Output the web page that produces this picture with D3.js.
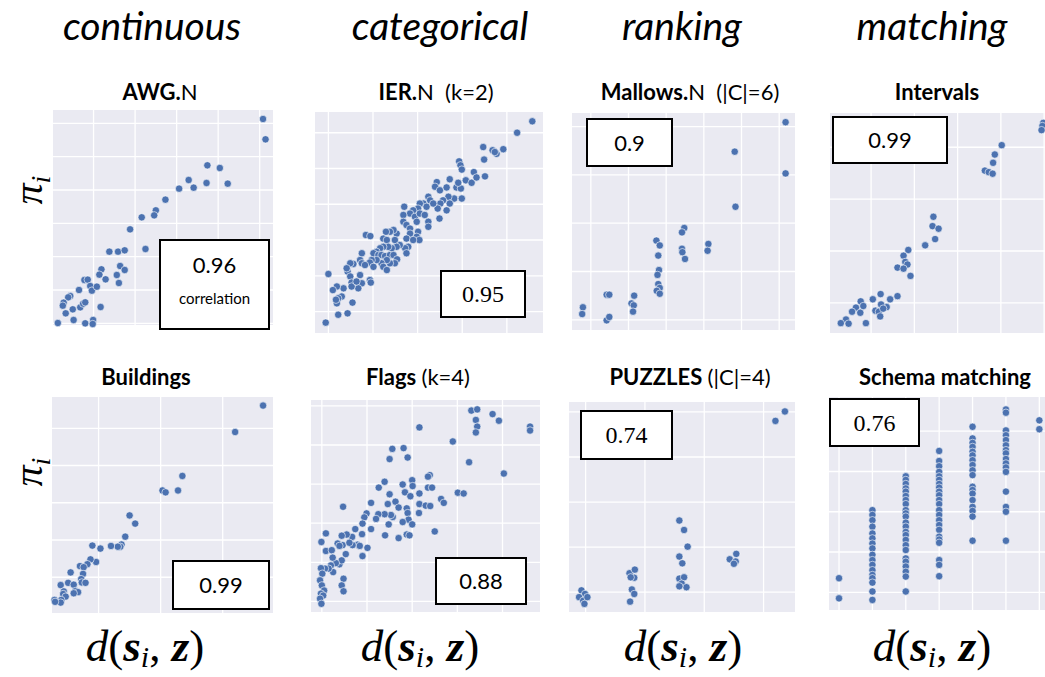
<!DOCTYPE html>
<html>
<head>
<meta charset="utf-8">
<script src="https://cdn.jsdelivr.net/npm/d3@7"></script>
<style>
body { margin: 0; background: #fff; }
svg { display: block; }
text { white-space: pre; }
</style>
</head>
<body>
<div id="chart"></div>
<script>
var w = 1045;
var h = 677;

var columnTitles = ["continuous", "categorical", "ranking", "matching"];
// title pieces: [text, bold?]
var panelTitles = [
    [["AWG.", 1], ["N", 0]],
    [["IER.", 1], ["N  (k=2)", 0]],
    [["Mallows.", 1], ["N  (|C|=6)", 0]],
    [["Intervals", 1]],
    [["Buildings", 1]],
    [["Flags ", 1], ["(k=4)", 0]],
    [["PUZZLES ", 1], ["(|C|=4)", 0]],
    [["Schema matching", 1]]
];
var correlations = ["0.96", "0.95", "0.9", "0.99", "0.99", "0.88", "0.74", "0.76"];

var awgPoints = [[4.08,6.13],[4.14,5.52],[2.74,4.74],[3.04,4.66],[2.29,4.30],[2.06,4.04],[2.41,4.07],[2.72,4.21],
    [3.23,4.19],[1.73,3.71],[1.50,3.39],[1.46,3.24],[1.16,3.18],[0.88,2.82],[1.25,2.23],[0.38,2.15],[0.59,2.15],
    [0.75,2.19],[0.64,1.72],[0.75,1.60],[0.56,1.45],[0.61,1.21],[0.19,1.62],[0.14,1.46],[0.29,1.32],[-0.22,1.30],
    [-0.14,1.31],[-0.08,1.12],[-0.04,0.98],[0.08,1.10],[-0.35,1.00],[-0.56,0.82],[-0.61,0.78],[-0.72,0.62],
    [-0.74,0.53],[-0.50,0.42],[-0.67,0.30],[-0.32,0.48],[-0.25,0.59],[-0.20,0.63],[0.17,0.49],[-0.48,0.10],
    [-0.86,0.01],[-0.20,0.00],[-0.01,0.10],[-0.02,-0.02]];

var ierPoints = [[4.57,5.32],[4.23,5.0],[3.47,4.60],[3.68,4.51],[3.77,4.41],[3.92,4.54],[3.73,4.46],[3.49,4.25],
    [2.93,4.20],[2.96,4.09],[2.99,3.97],[3.26,3.90],[3.51,3.78],[3.08,3.67],[3.21,3.60],[3.32,3.75],[2.72,3.70],
    [2.43,3.62],[2.39,3.49],[2.50,3.39],[2.65,3.47],[2.87,3.47],[2.97,3.44],[2.91,3.60],[2.82,3.16],[2.99,3.16],
    [2.69,3.21],[2.57,3.11],[2.51,3.02],[2.45,2.88],[2.72,3.02],[2.65,2.83],[2.49,2.60],[2.24,3.21],[2.28,3.11],
    [2.13,3.02],[2.20,2.93],[2.35,3.02],[2.05,3.02],[2.01,2.88],[1.90,2.83],[1.83,2.74],[1.70,2.93],[1.68,2.70],
    [1.68,2.51],[1.75,2.42],[1.83,2.32],[1.94,2.65],[1.98,2.51],[2.05,2.74],[2.16,2.70],[2.24,2.51],[2.24,2.37],
    [2.01,2.23],[1.98,2.09],[2.04,2.00],[1.83,2.18],[1.75,2.04],[1.90,2.00],[1.79,1.81],[1.72,1.77],[1.75,1.63],
    [1.60,1.86],[1.53,2.18],[1.46,2.28],[1.38,2.23],[1.29,2.23],[1.23,2.04],[1.31,2.00],[1.49,2.00],[1.53,1.81],
    [1.42,1.77],[1.34,1.81],[1.23,1.81],[1.16,1.77],[1.08,1.67],[1.01,1.63],[1.12,1.58],[1.19,1.58],[1.27,1.55],
    [1.38,1.58],[1.46,1.58],[1.54,1.46],[1.49,1.35],[1.38,1.35],[1.31,1.44],[1.19,1.35],[1.23,1.25],[1.31,1.16],
    [1.08,1.44],[0.97,1.44],[0.93,1.37],[1.01,1.25],[0.84,2.14],[0.94,2.11],[0.75,1.63],[0.71,1.44],[0.75,1.35],
    [0.82,1.30],[0.56,1.33],[0.49,1.35],[0.43,1.12],[0.49,0.98],[0.52,0.81],[0.71,1.02],[0.75,0.79],[0.67,0.65],
    [0.52,0.70],[0.93,0.88],[0.95,0.81],[0.34,0.65],[0.30,0.42],[0.19,0.70],[0.10,0.60],[0.22,0.37],[0.19,0.23],
    [0.17,0.33],[0.54,0.25],[0.43,-0.05],[0.22,-0.09],[0.00,1.05],[-0.06,-0.31],[0.41,1.21],[0.63,0.84]];

var mallowsPoints = [[5.17,4.09],[3.82,3.48],[5.17,3.03],[3.84,2.34],[2.48,1.90],[2.42,1.81],[1.74,1.64],
    [1.83,1.54],[1.79,1.33],[2.42,1.47],[2.43,1.40],[2.50,1.26],[3.12,1.57],[3.10,1.43],[1.81,1.03],[1.77,0.93],
    [1.79,0.74],[1.83,0.66],[1.75,0.60],[1.83,0.54],[0.42,0.52],[0.49,0.52],[1.15,0.50],[1.08,0.34],[1.14,0.30],
    [1.12,0.17],[-0.21,0.26],[-0.23,0.12],[0.42,-0.01],[0.49,0.06]];

var intervalPoints = [[3.98,3.47],[3.96,3.41],[3.94,3.33],[3.02,3.04],[2.86,2.86],[2.82,2.70],[2.63,2.55],
    [2.72,2.52],[2.81,2.49],[1.44,1.66],[1.42,1.48],[1.56,1.43],[1.48,1.23],[1.25,1.11],[0.86,1.02],[0.75,0.91],
    [0.79,0.79],[0.84,0.74],[0.61,0.68],[0.75,0.66],[0.91,0.52],[0.61,0.13],[0.22,0.17],[0.04,0.07],[0.44,0.07],
    [0.36,-0.08],[0.23,-0.03],[0.10,-0.15],[0.18,-0.17],[0.21,-0.26],[0.28,-0.11],[-0.24,0.03],[-0.18,-0.06],
    [-0.35,-0.09],[-0.44,-0.17],[-0.25,-0.19],[-0.58,-0.32],[-0.70,-0.39],[-0.52,-0.40],[-0.12,-0.39]];

var buildingPoints = [[2.65,4.61],[2.20,3.90],[1.35,2.72],[1.28,2.33],[1.03,2.33],[1.08,2.28],[0.50,1.66],
    [0.59,1.44],[0.43,1.09],[0.37,0.88],[0.35,0.82],[0.31,0.82],[0.20,0.84],[0.03,0.77],[-0.10,0.85],[-0.04,0.41],
    [-0.13,0.48],[-0.18,0.35],[-0.30,0.30],[-0.24,0.27],[-0.25,0.09],[-0.28,-0.05],[-0.27,-0.14],[-0.21,-0.15],
    [-0.45,0.13],[-0.49,-0.15],[-0.61,-0.21],[-0.40,-0.20],[-0.37,-0.37],[-0.33,-0.40],[-0.40,-0.43],[-0.56,-0.38],
    [-0.57,-0.45],[-0.53,-0.52],[-0.60,-0.61],[-0.71,-0.61],[-0.61,-0.68],[-0.70,-0.66]];

var flagPoints = [[3.31,4.88],[3.44,4.91],[3.78,4.79],[3.92,4.62],[3.41,4.64],[3.44,4.47],[3.41,4.32],[4.61,4.47],
    [4.61,4.37],[2.16,4.45],[2.90,4.09],[1.56,3.90],[1.81,3.92],[1.50,3.64],[1.90,3.68],[3.26,3.56],[4.03,3.27],
    [1.39,3.06],[1.26,2.91],[1.79,2.99],[2.00,3.10],[2.01,2.95],[1.84,2.79],[1.96,2.69],[1.50,2.74],[2.39,3.23],
    [2.35,3.19],[2.35,2.91],[2.44,2.91],[2.16,2.76],[3.01,2.78],[3.14,2.76],[2.64,2.62],[2.70,2.52],[2.16,2.49],
    [2.30,2.45],[2.40,2.44],[2.15,2.26],[1.09,2.52],[0.47,2.42],[1.46,2.49],[1.63,2.55],[1.70,2.40],[1.88,2.38],
    [1.90,2.26],[1.92,2.09],[1.79,2.03],[2.00,1.97],[1.57,2.16],[1.53,2.21],[1.39,2.23],[1.25,2.23],[0.99,2.25],
    [0.94,2.15],[0.90,1.99],[1.20,2.11],[1.09,1.85],[0.74,1.85],[0.89,1.72],[0.67,1.65],[0.55,1.71],[0.44,1.68],
    [0.09,1.74],[-0.01,1.52],[1.48,1.97],[1.40,1.69],[1.70,1.62],[1.88,1.71],[1.94,1.69],[2.50,1.79],[0.79,1.45],
    [0.84,1.42],[1.01,1.37],[0.90,1.16],[0.68,1.44],[0.46,1.44],[0.35,1.48],[0.39,1.42],[0.61,1.50],[0.53,1.21],
    [0.09,1.29],[0.22,1.31],[0.39,0.95],[0.44,1.05],[0.31,0.98],[0.24,1.12],[0.20,0.92],[0.25,0.75],[0.15,0.84],
    [0.07,0.84],[-0.02,0.85],[0.01,0.71],[-0.04,0.54],[0.00,0.41],[0.05,0.28],[-0.02,0.20],[0.03,0.15],
    [-0.04,0.07],[-0.01,-0.06],[0.48,0.58],[0.44,0.41],[0.48,0.26]];

var puzzlePoints = [[3.36,4.01],[3.20,3.80],[1.58,1.59],[1.66,1.38],[1.72,1.01],[1.58,0.79],[1.63,0.64],
    [1.58,0.30],[1.66,0.33],[1.62,0.19],[1.70,0.11],[1.58,0.13],[2.43,0.73],[2.54,0.85],[2.53,0.68],[2.50,0.63],
    [0.74,0.42],[0.83,0.50],[0.82,0.32],[0.76,0.33],[0.78,0.06],[0.82,-0.04],[0.75,-0.21],[-0.07,0.04],
    [-0.01,-0.04],[-0.11,-0.11],[-0.04,-0.19],[-0.02,-0.26],[0.03,-0.11]];

var schemaPoints = [[0,0.35],[0,-0.15],
    [1,2.04],[1,1.92],[1,1.79],[1,1.63],[1,1.46],[1,1.34],[1,1.21],[1,1.09],[1,0.93],[1,0.80],[1,0.68],[1,0.55],
    [1,0.43],[1,0.35],[1,0.24],[1,0.02],[1,-0.19],
    [2,2.88],[2,2.79],[2,2.69],[2,2.58],[2,2.50],[2,2.39],[2,2.29],[2,2.19],[2,2.04],[2,1.96],[2,1.88],[2,1.73],
    [2,1.63],[2,1.50],[2,1.42],[2,1.30],[2,1.17],[2,1.05],[2,0.84],[2,0.76],[2,0.64],[2,0.51],[2,0.39],[2,0.02],
    [3,3.51],[3,3.26],[3,3.13],[3,2.99],[3,2.88],[3,2.79],[3,2.69],[3,2.60],[3,2.50],[3,2.41],[3,2.29],[3,2.19],
    [3,2.04],[3,1.92],[3,1.79],[3,1.67],[3,1.55],[3,1.38],[3,1.31],[3,1.23],[3,0.80],[3,0.68],[3,0.40],
    [4,4.11],[4,3.82],[4,3.71],[4,3.61],[4,3.49],[4,3.40],[4,3.28],[4,3.16],[4,3.03],[4,2.91],[4,2.62],[4,2.54],
    [4,2.45],[4,2.29],[4,2.12],[4,2.02],[4,1.88],[4,1.28],
    [5,4.54],[5,4.46],[5,4.02],[5,3.90],[5,3.78],[5,3.65],[5,3.53],[5,3.45],[5,3.31],[5,3.20],[5,3.10],[5,2.99],
    [5,2.50],[5,2.12],[5,2.00],[5,1.28],
    [6,4.27],[6,4.05]];

var panelData = [awgPoints, ierPoints, mallowsPoints, intervalPoints,
                 buildingPoints, flagPoints, puzzlePoints, schemaPoints];

// panel frames, domains, grid ticks, annotation boxes
var layout = [
    {x0: 53, y0: 110, x1: 273, y1: 325, xd: [-0.976, 4.32], yd: [-0.05, 6.4], xt: 5, yt: 7, box: [160, 240, 269, 329], serif: false},
    {x0: 315, y0: 112, x1: 543, y1: 333, xd: [-0.30, 4.81], yd: [-0.60, 5.58], xt: 5, yt: 6, box: [441, 271, 525, 317], serif: true},
    {x0: 572, y0: 113, x1: 795, y1: 330, xd: [-0.50, 5.42], yd: [-0.21, 4.28], xt: 6, yt: 5, box: [587, 119, 672, 166], serif: false},
    {x0: 830, y0: 113, x1: 1045, y1: 333, xd: [-0.95, 4.02], yd: [-0.58, 3.66], xt: 5, yt: 4, box: [833, 117, 947, 163], serif: false},
    {x0: 52, y0: 397, x1: 273, y1: 613, xd: [-0.75, 2.81], yd: [-0.96, 4.84], xt: 3, yt: 5, box: [173, 561, 269, 609], serif: false},
    {x0: 311, y0: 400, x1: 540, y1: 612, xd: [-0.24, 4.83], yd: [-0.27, 5.15], xt: 5, yt: 6, box: [436, 558, 526, 604], serif: false},
    {x0: 569, y0: 402, x1: 795, y1: 612, xd: [-0.28, 3.53], yd: [-0.44, 4.22], xt: 4, yt: 5, box: [581, 411, 672, 459], serif: true},
    {x0: 829, y0: 397, x1: 1045, y1: 610, xd: [-0.30, 6.17], yd: [-0.44, 4.85], xt: 7, yt: 5, box: [830, 399, 919, 446], serif: true}
];

var colCenters = [152, 440, 682, 932];
var titleCenters = [160, 436, 690, 937, 146, 418, 690, 945];

var svg = d3.select("#chart")
    .append("svg")
    .attr("width", w)
    .attr("height", h);

// column headers
svg.selectAll(".colTitle")
    .data(columnTitles)
    .enter()
    .append("text")
    .attr("class", "colTitle")
    .attr("x", (d, i) => colCenters[i])
    .attr("y", 40)
    .attr("text-anchor", "middle")
    .style("font-family", "Lato, 'Open Sans', sans-serif")
    .style("font-style", "italic")
    .style("font-size", "39px")
    .text((d) => d);

layout.forEach(function(p, i) {
    var xScale = d3.scaleLinear().domain(p.xd).range([p.x0, p.x1]);
    var yScale = d3.scaleLinear().domain(p.yd).range([p.y1, p.y0]);
    var g = svg.append("g").attr("class", "panel");

    g.append("rect")
        .attr("x", p.x0)
        .attr("y", p.y0)
        .attr("width", p.x1 - p.x0)
        .attr("height", p.y1 - p.y0)
        .attr("fill", "#eaeaf2");

    // white grid lines from the scales
    g.selectAll(".vgrid")
        .data(d3.range(p.xt))
        .enter()
        .append("line")
        .attr("x1", (d) => xScale(d))
        .attr("x2", (d) => xScale(d))
        .attr("y1", p.y0)
        .attr("y2", p.y1)
        .attr("stroke", "#fff")
        .attr("stroke-width", 1.3);
    g.selectAll(".hgrid")
        .data(d3.range(p.yt))
        .enter()
        .append("line")
        .attr("x1", p.x0)
        .attr("x2", p.x1)
        .attr("y1", (d) => yScale(d))
        .attr("y2", (d) => yScale(d))
        .attr("stroke", "#fff")
        .attr("stroke-width", 1.3);

    g.selectAll("circle")
        .data(panelData[i])
        .enter()
        .append("circle")
        .attr("cx", (d) => xScale(d[0]))
        .attr("cy", (d) => yScale(d[1]))
        .attr("r", 3.7)
        .attr("fill", "#4c72b0")
        .attr("stroke", "#fff")
        .attr("stroke-width", 0.6);

    // panel title
    var t = svg.append("text")
        .attr("x", titleCenters[i])
        .attr("y", i < 4 ? 100 : 385)
        .attr("text-anchor", "middle")
        .style("font-family", "Lato, 'Open Sans', sans-serif")
        .style("font-size", "22px");
    panelTitles[i].forEach(function(part) {
        t.append("tspan")
            .style("font-weight", part[1] ? "bold" : "normal")
            .text(part[0]);
    });

    // correlation box
    var b = p.box;
    svg.append("rect")
        .attr("x", b[0])
        .attr("y", b[1])
        .attr("width", b[2] - b[0])
        .attr("height", b[3] - b[1])
        .attr("fill", "#fff")
        .attr("stroke", "#000")
        .attr("stroke-width", 2);
    svg.append("text")
        .attr("x", (b[0] + b[2]) / 2)
        .attr("y", i == 0 ? b[1] + 33 : (b[1] + b[3]) / 2 + 8)
        .attr("text-anchor", "middle")
        .style("font-family", p.serif ? "'Liberation Serif', serif" : "Lato, 'Open Sans', sans-serif")
        .style("font-size", p.serif ? "24px" : "22px")
        .text(correlations[i]);
    if (i == 0) {
        svg.append("text")
            .attr("x", (b[0] + b[2]) / 2)
            .attr("y", b[1] + 64)
            .attr("text-anchor", "middle")
            .style("font-family", "Lato, 'Open Sans', sans-serif")
            .style("font-size", "15px")
            .text("correlation");
    }
});

// y labels pi_i
[190, 472].forEach(function(cy) {
    var t = svg.append("text")
        .attr("transform", "translate(42," + cy + ") rotate(-90)")
        .attr("text-anchor", "middle")
        .style("font-family", "'Liberation Serif', serif")
        .style("font-style", "italic")
        .style("font-size", "42px");
    t.append("tspan").text("\u03c0");
    t.append("tspan").attr("dy", 8).style("font-size", "28px").text("i");
});

// x labels d(s_i, z)
colCenters.forEach(function(cx, i) {
    var t = svg.append("text")
        .attr("x", [145, 420, 683, 932][i])
        .attr("y", 661)
        .attr("text-anchor", "middle")
        .style("font-family", "'Liberation Serif', serif")
        .style("font-size", "45px");
    t.append("tspan").style("font-style", "italic").text("d");
    t.append("tspan").text("(");
    t.append("tspan").style("font-weight", "bold").style("font-style", "italic").text("s");
    t.append("tspan").attr("dy", 6).style("font-style", "italic").style("font-size", "30px").text("i");
    t.append("tspan").attr("dy", -6).text(", ");
    t.append("tspan").style("font-weight", "bold").style("font-style", "italic").text("z");
    t.append("tspan").text(")");
});
</script>
</body>
</html>
